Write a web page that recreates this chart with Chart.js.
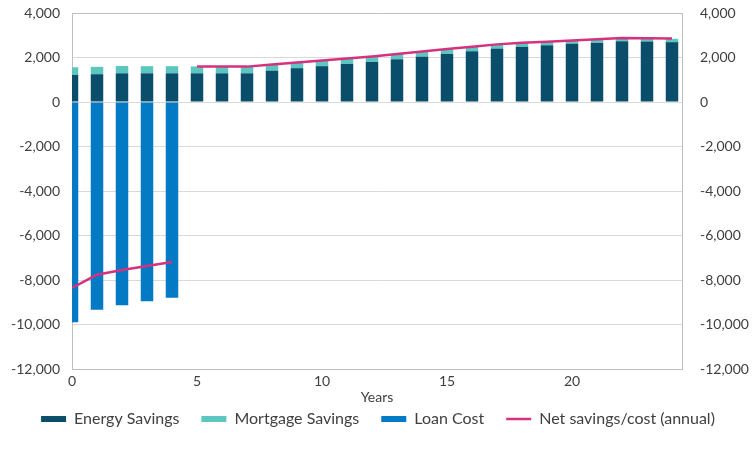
<!DOCTYPE html>
<html>
<head>
<meta charset="utf-8">
<script src="https://cdn.jsdelivr.net/npm/chart.js@4.4.1/dist/chart.umd.min.js"></script>
<style>
  html, body { margin: 0; padding: 0; background: #fff; }
</style>
</head>
<body>
<canvas id="savingsChart" width="756" height="450"></canvas>
<script>
// values
const years = [0, 1, 2, 3, 4, 5, 6, 7, 8, 9, 10, 11, 12, 13, 14, 15, 16, 17, 18, 19, 20, 21, 22, 23, 24];
const energySavings = [1220, 1250, 1290, 1290, 1290, 1290, 1290, 1290, 1410, 1520, 1610, 1710, 1800, 1920, 2040, 2160, 2280, 2400, 2480, 2550, 2620, 2660, 2730, 2720, 2690];
const mortgageSavings = [340, 330, 330, 320, 320, 310, 290, 290, 280, 250, 250, 240, 240, 240, 240, 210, 200, 180, 180, 160, 140, 140, 130, 120, 150];
const loanCost = [-9900, -9340, -9140, -8960, -8800, 0, 0, 0, 0, 0, 0, 0, 0, 0, 0, 0, 0, 0, 0, 0, 0, 0, 0, 0, 0];
const netSavings = [-8350, -7760, -7550, -7370, -7190, 1600, 1590, 1590, 1690, 1770, 1860, 1950, 2050, 2160, 2270, 2380, 2480, 2590, 2660, 2710, 2760, 2820, 2880, 2870, 2850];
const xTicks = [0, 5, 10, 15, 20];
const yTicks = [-12000, -10000, -8000, -6000, -4000, -2000, 0, 2000, 4000];

const textColor = '#404040';
const gridColor = '#d9d9d9';
const borderColor = '#bfbfbf';

Chart.defaults.font.family = 'Lato, "Open Sans", sans-serif';
Chart.defaults.color = textColor;

// bars as {x, y} on a linear year axis
const toPoints = arr => years.map((yr, i) => ({ x: yr, y: arr[i] }));

// net line has a gap where the loan period ends
const netPoints = [];
years.forEach((yr, i) => {
  netPoints.push({ x: yr, y: netSavings[i] });
  if (loanCost[i] < 0 && !(loanCost[i + 1] < 0)) netPoints.push({ x: yr + 0.5, y: null });
});

const setTicks = list => scale => { scale.ticks = list.map(v => ({ value: v })); };

new Chart(document.getElementById('savingsChart'), {
  type: 'bar',
  data: {
    datasets: [
      {
        label: 'Energy Savings',
        data: toPoints(energySavings),
        backgroundColor: '#0b4e6b',
        pointStyle: 'rect',
        order: 1,
        clip: 0
      },
      {
        label: 'Mortgage Savings',
        data: toPoints(mortgageSavings),
        backgroundColor: '#5cc6c1',
        pointStyle: 'rect',
        order: 1,
        clip: 0
      },
      {
        label: 'Loan Cost',
        data: toPoints(loanCost),
        backgroundColor: '#0479c4',
        pointStyle: 'rect',
        order: 1,
        clip: 0
      },
      {
        type: 'line',
        label: 'Net savings/cost (annual)',
        data: netPoints,
        yAxisID: 'y2',
        borderColor: '#d6317e',
        backgroundColor: '#d6317e',
        borderWidth: 2.5,
        pointRadius: 0,
        pointBorderWidth: 2.5,
        pointStyle: 'line',
        tension: 0,
        spanGaps: false,
        order: 0
      }
    ]
  },
  options: {
    responsive: false,
    animation: false,
    barPercentage: 0.5,
    categoryPercentage: 1,
    layout: { padding: { top: 13, left: 0, right: 0, bottom: 13 } },
    plugins: {
      tooltip: { enabled: false },
      legend: {
        position: 'bottom',
        labels: {
          usePointStyle: true,
          pointStyleWidth: 25,
          boxHeight: 6,
          padding: 22,
          color: textColor,
          font: { size: 16 },
          sort: (a, b) => a.datasetIndex - b.datasetIndex
        }
      }
    },
    scales: {
      x: {
        type: 'linear',
        min: 0,
        max: 24.4,
        offset: false,
        stacked: true,
        grid: { display: false, drawTicks: false, offset: false },
        border: { color: borderColor },
        afterBuildTicks: setTicks(xTicks),
        ticks: { autoSkip: false, maxRotation: 0, padding: 4, font: { size: 14 }, color: textColor },
        title: {
          display: true,
          text: 'Years',
          color: textColor,
          font: { size: 14 },
          padding: { top: 0, bottom: -17 }
        },
        afterFit: s => { s.height = 20; }
      },
      y: {
        position: 'left',
        min: yTicks[0],
        max: yTicks[yTicks.length - 1],
        stacked: true,
        afterBuildTicks: setTicks(yTicks),
        grid: {
          tickLength: 8,
          tickColor: 'transparent',
          color: c => (c.tick && c.tick.value === yTicks[yTicks.length - 1]) ? borderColor : gridColor
        },
        border: { color: borderColor },
        ticks: {
          padding: 4,
          font: { size: 14 },
          color: textColor,
          callback: v => v.toLocaleString('en-US')
        },
        afterFit: s => { s.width = 72; }
      },
      y2: {
        position: 'right',
        min: yTicks[0],
        max: yTicks[yTicks.length - 1],
        afterBuildTicks: setTicks(yTicks),
        grid: { color: 'transparent', tickLength: 14, tickColor: 'transparent' },
        border: { color: borderColor },
        ticks: {
          padding: 4,
          font: { size: 14 },
          color: textColor,
          callback: v => v.toLocaleString('en-US')
        },
        afterFit: s => { s.width = 74; }
      }
    }
  }
});
</script>
</body>
</html>
